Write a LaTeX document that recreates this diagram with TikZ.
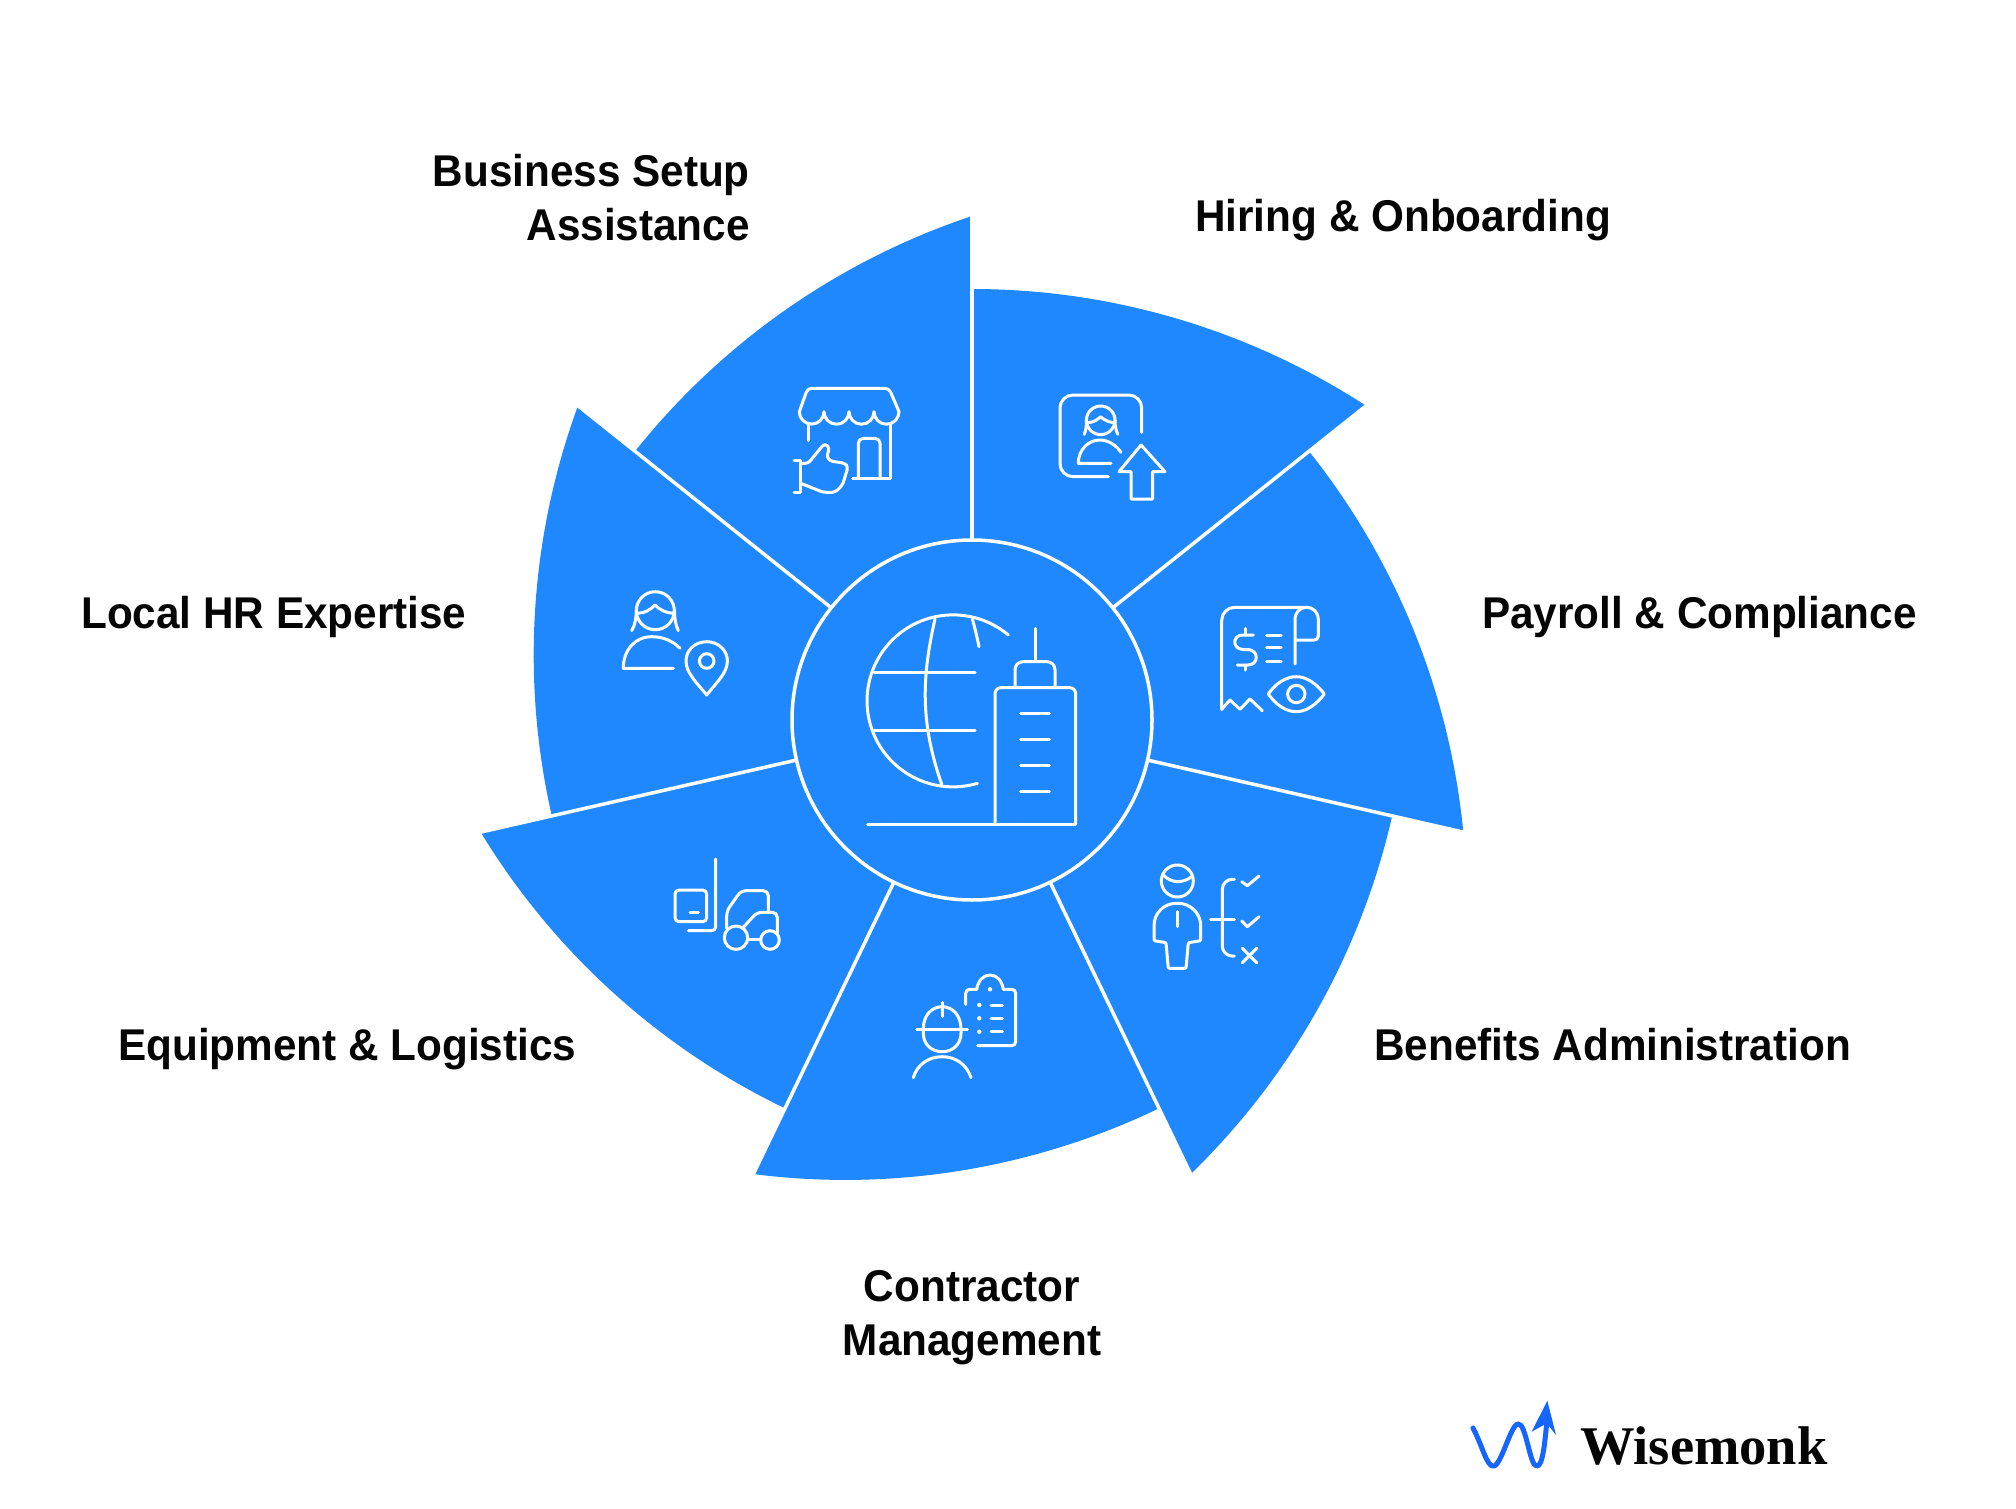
\documentclass[tikz,border=0pt]{standalone}
\usepackage{fontspec}
\setmainfont{Liberation Sans}[FakeStretch=0.95]
\newfontfamily\logofont{Liberation Serif}
\definecolor{wedgeblue}{HTML}{1F88FF}
\definecolor{logoblue}{HTML}{1565FF}
\definecolor{labelink}{HTML}{050505}
\tikzset{
  ic/.style={draw=white,line width=3pt,line cap=round,line join=round},
  wedge/.style={fill=wedgeblue},
  spoke/.style={draw=white,line width=3.5pt},
  lab/.style={font=\fontsize{44.5}{54}\selectfont\bfseries,text=labelink,inner sep=0pt,align=center},
}
\begin{document}
\begin{tikzpicture}[x=1pt,y=1pt]
\useasboundingbox (0,0) rectangle (2016,-1509);
\fill[white] (0,0) rectangle (2016,-1509);
% wedges
\foreach \k in {0,...,6}{
  \begin{scope}[shift={(972,-720)},rotate=-51.42857*\k]
    \path[wedge] (0,0) -- (0,431) arc[start angle=90,end angle=56.99,radius=723.3pt] -- cycle;
  \end{scope}
}
\foreach \k in {0,...,6}{
  \begin{scope}[shift={(972,-720)},rotate=-51.42857*\k]
    \coordinate (hubc) at (0,0);
    \coordinate (spokeend) at (0,512);
    \draw[spoke] (hubc) -- (spokeend);
  \end{scope}
}
\begin{scope}[yscale=-1]
% hub
\path[fill=wedgeblue,draw=white,line width=3.5pt] (972,720) circle[radius=180pt];
% globe and building
\draw[ic] (1008.3,635) arc[start angle=-50,end angle=-286.5,radius=86pt];
\draw[ic] (935,619) .. controls (921,680) and (921,725) .. (941.7,784.3);
\draw[ic] (972.3,619) .. controls (975,628) and (977,637) .. (979,646.7);
\draw[ic] (874,672.7) -- (975,672.7);
\draw[ic] (874,730) -- (975,730);
\draw[ic] (867.7,824) -- (1075.7,824);
\draw[ic,rounded corners=6pt] (995,824) -- (995,687.7) -- (1075.7,687.7) -- (1075.7,824);
\draw[ic,rounded corners=8pt] (1015,687.7) -- (1015,661.7) -- (1055,661.7) -- (1055,687.7);
\draw[ic] (1035,628.3) -- (1035,661.7);
\foreach \yy in {713.3,739.3,765.3,791.3}{\draw[ic] (1020.7,\yy) -- (1049.3,\yy);}
% business setup: store and thumb
\draw[ic,rounded corners=4pt] (799.3,411.7) -- (807.7,388.3) -- (889,388.3) -- (899,411.7);
\draw[ic] (799.3,411.7) arc[start angle=180,end angle=0,radius=12.35pt]
  arc[start angle=180,end angle=0,radius=12.5pt]
  arc[start angle=180,end angle=0,radius=12.5pt]
  arc[start angle=180,end angle=0,radius=12.5pt];
\draw[ic] (808,424.5) -- (808,440.7);
\draw[ic] (890,424.5) -- (890,478.3) -- (852.7,478.3);
\draw[ic,rounded corners=5pt] (858.3,478.3) -- (858.3,438.3) -- (880,438.3) -- (880,478.3);
\draw[ic] (794,460.7) -- (800.7,460.7) -- (800.7,492.3) -- (794,492.3);
\draw[ic,rounded corners=3pt] (800.7,463.3) -- (808.3,463.3) -- (821.7,446.7) -- (825,443.5) -- (829.5,448) -- (826.7,456.7) -- (830,461) -- (845,463.3) -- (848,467) -- (842.5,485) -- (835,492.3) -- (823.3,492.3) -- (800.7,483.3);
% hiring icon
\draw[ic,rounded corners=13pt] (1141.7,432.3) -- (1141.7,395) -- (1060,395) -- (1060,476.7) -- (1108.3,476.7);
\draw[ic] (1100.7,420.3) circle[radius=14.3pt];
\draw[ic] (1088.3,422.7) .. controls (1094,422) and (1097,420) .. (1100.7,416.7) .. controls (1104,420) and (1108,422) .. (1114,422.7);
\draw[ic] (1086.5,420) .. controls (1086.5,426) and (1086,430) .. (1084.3,434.3);
\draw[ic] (1115,420) .. controls (1115,426) and (1116,430) .. (1117.7,434.3);
\draw[ic] (1121,452.3) .. controls (1116,445) and (1108,440) .. (1100,440) .. controls (1088,440) and (1078.3,450) .. (1078.3,463.3) -- (1111,463.3);
\draw[ic] (1141,445) -- (1165,471.7) -- (1152.7,471.7) -- (1152.7,499) -- (1131,499) -- (1131,471.7) -- (1119,471.7) -- cycle;
% payroll icon
\draw[ic,rounded corners=13pt] (1221.7,709.3) -- (1221.7,607.3) -- (1306.7,607.3);
\draw[ic] (1221.7,709.3) -- (1230,700) -- (1240,709.3) -- (1250,699) -- (1262.3,710.7);
\draw[ic] (1295,664) -- (1295,620) .. controls (1295,612) and (1300,607.3) .. (1306.7,607.3) .. controls (1313,607.3) and (1318.3,612) .. (1318.3,620) -- (1318.3,636) .. controls (1318.3,639) and (1316,640) .. (1314,640) -- (1295,640);
\draw[ic] (1253.3,635) -- (1243,635) .. controls (1232,635) and (1232,649) .. (1243,649.5) -- (1248,649.5) .. controls (1259,650) and (1259,665) .. (1248,665) -- (1237.3,665);
\draw[ic] (1245.7,628.3) -- (1245.7,635);
\draw[ic] (1245.7,665) -- (1245.7,670);
\foreach \yy in {635,647.7,661}{\draw[ic] (1266.7,\yy) -- (1281,\yy);}
\draw[ic] (1268.3,694) .. controls (1276,683) and (1286,676.7) .. (1296.3,676.7) .. controls (1306,676.7) and (1316,683) .. (1324.3,694) .. controls (1316,705) and (1306,711.7) .. (1296.3,711.7) .. controls (1286,711.7) and (1276,705) .. (1268.3,694) -- cycle;
\draw[ic] (1296.3,694) circle[radius=8.7pt];
% benefits icon
\draw[ic] (1177.3,881) circle[radius=16pt];
\draw[ic] (1163.3,875) .. controls (1171,883) and (1182,884) .. (1191.7,876.7);
\draw[ic,rounded corners=1pt] (1154,940.7) -- (1154,926.7) .. controls (1154,913) and (1164,903.3) .. (1177.3,903.3) .. controls (1190,903.3) and (1200.7,913) .. (1200.7,926.7) -- (1200.7,940.7) -- (1188.3,942.7) -- (1186,968.3) -- (1168.3,968.3) -- (1166,942.7) -- cycle;
\draw[ic] (1177.3,911.7) -- (1177.3,926.7);
\draw[ic,rounded corners=10pt] (1234.3,879.3) -- (1222.3,879.3) -- (1222.3,956) -- (1234.3,956);
\draw[ic] (1210.7,919.3) -- (1234.3,919.3);
\draw[ic] (1241.7,881.7) -- (1247.3,885.7) -- (1259,876);
\draw[ic] (1241.7,921) -- (1247.3,926.7) -- (1259,916.7);
\draw[ic] (1242.3,948.3) -- (1256.7,962.7);
\draw[ic] (1256.7,948.3) -- (1242.3,962.7);
% contractor icon
\draw[ic,rounded corners=4pt] (965.7,1004.3) -- (965.7,989.3) -- (976.7,989.3);
\draw[ic] (976.7,989.3) .. controls (978,981) and (983,975) .. (990,975) .. controls (997,975) and (1002,981) .. (1003.3,989.3);
\draw[ic,rounded corners=4pt] (1003.3,989.3) -- (1015.7,989.3) -- (1015.7,1045.7) -- (977.7,1045.7);
\fill[white] (990,989.3) circle[radius=2.2pt];
\foreach \yy in {1005,1018.3,1031.7}{
  \fill[white] (979.3,\yy) circle[radius=2.2pt];
  \draw[ic] (991,\yy) -- (1002.3,\yy);
}
\draw[ic] (923.3,1029) .. controls (923.3,1016) and (931,1006.7) .. (942.3,1006.7) .. controls (953,1006.7) and (961,1016) .. (961,1029) -- (961,1033) .. controls (961,1044) and (953,1051.7) .. (942.3,1051.7) .. controls (931,1051.7) and (923.3,1044) .. (923.3,1033) -- cycle;
\draw[ic] (916.7,1029) -- (967.7,1029);
\draw[ic] (942.3,1002.3) -- (942.3,1016.7);
\draw[ic] (913.3,1077.7) .. controls (917,1065) and (928,1056.7) .. (942.3,1056.7) .. controls (956,1056.7) and (967,1065) .. (971,1077.7);
% equipment icon
\draw[ic,rounded corners=4pt] (675,890) rectangle (706.7,921.7);
\draw[ic] (690,912.7) -- (698.3,912.7);
\draw[ic,rounded corners=4pt] (715.7,859) -- (715.7,930.7) -- (688.3,930.7);
\draw[ic,rounded corners=5pt] (726.7,928.3) -- (726.7,911) -- (741,890.7) -- (768.3,890.7) -- (768.3,911.7);
\draw[ic,rounded corners=5pt] (743.3,927.3) -- (757,912.3) -- (777.3,912.3) -- (777.3,933);
\draw[ic] (736,937.7) circle[radius=11.7pt];
\draw[ic] (770,940) circle[radius=9.3pt];
\draw[ic] (747.7,939.3) -- (760.7,939.3);
% local hr icon
\draw[ic] (655.3,610.7) circle[radius=19pt];
\draw[ic] (637.7,613.3) .. controls (645,613) and (650,610) .. (655,605) .. controls (660,610) and (666,613) .. (673.3,613.3);
\draw[ic] (636.3,610) .. controls (636.3,618) and (635,625) .. (631.7,630.7);
\draw[ic] (674.5,610) .. controls (674.5,618) and (675.5,625) .. (678.3,630.7);
\draw[ic] (680,648.3) .. controls (673,641) and (663,636.7) .. (651.7,636.7) .. controls (635,636.7) and (623.3,650) .. (623.3,668.3) -- (673.3,668.3);
\draw[ic] (706.7,695) .. controls (697,683) and (686,673) .. (686,661) .. controls (686,650) and (695,641.7) .. (706.7,641.7) .. controls (718,641.7) and (727.4,650) .. (727.4,661) .. controls (727.4,673) and (716,683) .. (706.7,695) -- cycle;
\draw[ic] (706.7,661) circle[radius=7.3pt];
% labels
\node[lab,align=right,anchor=east] (business) at (750,198) {Business Setup\\Assistance};
\node[lab,anchor=base west] (hiring) at (1195,231.7) {Hiring \& Onboarding};
\node[lab,anchor=base west] (payroll) at (1482,628) {Payroll \& Compliance};
\node[lab,anchor=base west] (benefits) at (1374,1060) {Benefits Administration};
\node[lab,anchor=center] (contractor) at (972,1317.5) {Contractor\\Management};
\node[lab,anchor=base west] (equipment) at (118,1060) {Equipment \& Logistics};
\node[lab,anchor=base west] (localhr) at (81,628) {Local HR Expertise};
% logo
\draw[draw=logoblue,line width=5pt,line cap=round,line join=round] (1473,1428) .. controls (1482,1445) and (1487,1467) .. (1493.3,1466) .. controls (1501,1467) and (1511,1423) .. (1518.3,1424) .. controls (1526,1423) and (1530,1467) .. (1536.7,1466) .. controls (1543,1467) and (1545,1440) .. (1547,1420);
\fill[logoblue] (1547.3,1400.7) -- (1556,1435) -- (1546.7,1423.3) -- (1531.7,1431.7) -- cycle;
\node[inner sep=0pt,anchor=base west,font=\logofont\fontsize{54.5}{60}\selectfont\bfseries,text=labelink] (logo) at (1580,1464) {Wisemonk};
\end{scope}
\end{tikzpicture}
\end{document}
